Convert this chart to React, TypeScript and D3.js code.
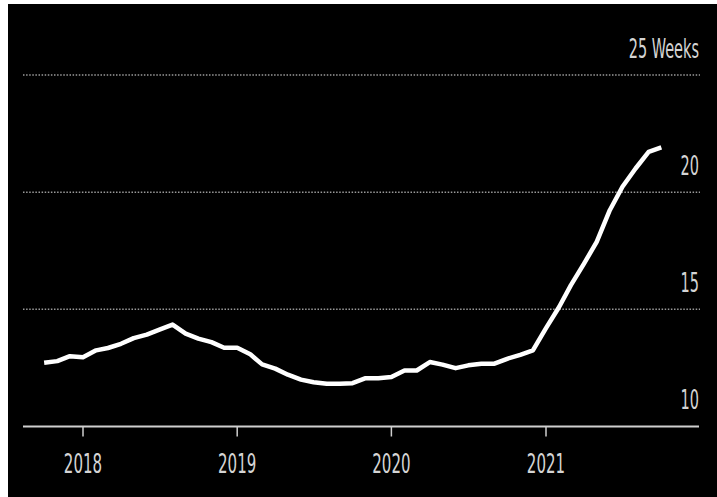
import React from "react";
import * as d3 from "d3";

const startMonth = "2017-10";
const values = [
  12.72, 12.79, 13.0,
  12.96, 13.25, 13.35, 13.53, 13.77, 13.92, 14.13, 14.35, 13.96, 13.75, 13.6, 13.36,
  13.36, 13.08, 12.65, 12.47, 12.21, 12.0, 11.89, 11.82, 11.82, 11.85, 12.06, 12.06,
  12.11, 12.39, 12.39, 12.75, 12.64, 12.49, 12.61, 12.68, 12.68, 12.89, 13.06, 13.25,
  14.2, 15.1, 16.03, 16.95, 17.88, 19.23, 20.23, 21.01, 21.72, 21.91,
];
const yTicks = [10, 15, 20, 25];
const yTickLabels = ["10", "15", "20", "25 Weeks"];
const xTicks = ["2018", "2019", "2020", "2021"];

const W = 717;
const H = 497;

export default function App() {
  const parse = d3.timeParse("%Y-%m");
  const start = parse(startMonth)!;
  const data = values.map((v, i) => ({ date: d3.timeMonth.offset(start, i), v }));

  const x = d3
    .scaleTime()
    .domain([new Date(2018, 0, 1), new Date(2021, 0, 1)])
    .range([83, 546]);
  const y = d3.scaleLinear().domain([10, 25]).range([426.5, 75]);

  const line = d3
    .line<{ date: Date; v: number }>()
    .x((d) => x(d.date))
    .y((d) => y(d.v));

  const font = "'Liberation Sans Narrow', 'DejaVu Sans Condensed', sans-serif";
  const sx = 0.62;

  return (
    <svg
      width={W}
      height={H}
      style={{ position: "absolute", left: 0, top: 0, display: "block" }}
    >
      <rect x={0} y={0} width={W} height={H} fill="#fff" />
      <rect x={8} y={4} width={W - 8} height={H - 4} fill="#000" />
      {yTicks.map((t) =>
        t === 10 ? null : (
          <line
            key={"g" + t}
            x1={23}
            x2={700}
            y1={y(t)}
            y2={y(t)}
            stroke="#9a9a9a"
            strokeWidth={1.5}
            strokeDasharray="1.5 1.6"
          />
        )
      )}
      <line x1={23} x2={699} y1={y(10)} y2={y(10)} stroke="#cfcfcf" strokeWidth={2} />
      {xTicks.map((t) => {
        const xx = x(new Date(+t, 0, 1));
        return (
          <g key={t}>
            <line x1={xx} x2={xx} y1={y(10)} y2={y(10) + 10} stroke="#cfcfcf" strokeWidth={1.5} />
            <text
              transform={`translate(${xx},472.5) scale(${sx},1)`}
              textAnchor="middle"
              fill="#d4d4d4"
              fontSize={27}
              fontFamily={font}
            >
              {t}
            </text>
          </g>
        );
      })}
      {yTicks.map((t, i) => (
        <text
          key={"l" + t}
          transform={`translate(699,${y(t) - 17.5}) scale(${sx},1)`}
          textAnchor="end"
          fill="#d4d4d4"
          fontSize={26}
          fontFamily={font}
        >
          {yTickLabels[i]}
        </text>
      ))}
      <path
        d={line(data) || ""}
        fill="none"
        stroke="#fff"
        strokeWidth={4.5}
        strokeLinejoin="round"
        strokeLinecap="butt"
      />
    </svg>
  );
}
